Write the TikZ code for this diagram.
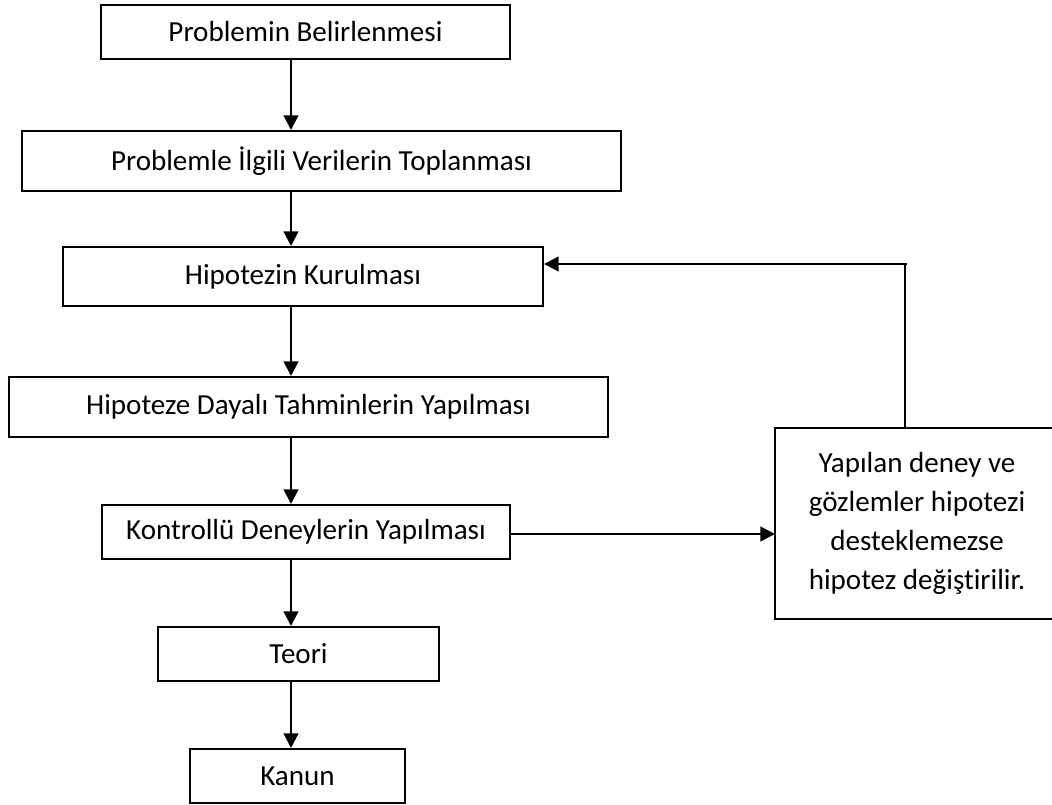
\documentclass[tikz,border=0pt]{standalone}
\usepackage{fontspec}
\setmainfont{Carlito}[Ligatures={NoCommon}]
\usetikzlibrary{arrows.meta}
\begin{document}
\begin{tikzpicture}[x=0.75pt,y=-0.75pt,
  box/.style={draw=black,line width=1.5pt,inner sep=0pt,align=center,
    font={\fontsize{21.8}{29.25}\selectfont}},
  arr/.style={line width=1.6pt,-{Triangle[length=11pt,width=11pt]}},
  thin line/.style={line width=1.2pt}]
\useasboundingbox[fill=white] (0,0) rectangle (1052,805);
\clip (0,0) rectangle (1052,805);
\node[box,minimum width={409*0.75pt},minimum height={54*0.75pt}] (b1) at (305.5,32) {Problemin Belirlenmesi};
\node[box,minimum width={599*0.75pt},minimum height={60*0.75pt}] (b2) at (321.5,161) {Problemle İlgili Verilerin Toplanması};
\node[box,minimum width={480*0.75pt},minimum height={59*0.75pt}] (b3) at (303,276.5) {Hipotezin Kurulması};
\node[box,minimum width={599*0.75pt},minimum height={60*0.75pt}] (b4) at (308.5,407) {Hipoteze Dayalı Tahminlerin Yapılması};
\node[box,minimum width={408*0.75pt},minimum height={54*0.75pt}] (b5) at (306,532) {Kontrollü Deneylerin Yapılması};
\node[box,minimum width={281*0.75pt},minimum height={54*0.75pt}] (b6) at (298.5,654) {Teori};
\node[box,minimum width={215*0.75pt},minimum height={54*0.75pt}] (b7) at (297.5,776) {Kanun};
\node[box,draw=none,minimum width={282*0.75pt},minimum height={189*0.75pt}] (rb) at (917,523.5) {Yapılan deney ve\\gözlemler hipotezi\\desteklemezse\\hipotez değiştirilir.};
\draw[line width=1.5pt] ([xshift=40pt]rb.north east) -- (rb.north west) -- (rb.south west) -- ([xshift=40pt]rb.south east);
\coordinate (ax) at (291,0);
\coordinate (fb) at (905,264);
\coordinate (fbend) at (907,264);
\draw[arr] (b1.south -| ax) -- (b2.north -| ax);
\draw[arr] (b2.south -| ax) -- (b3.north -| ax);
\draw[arr] (b3.south -| ax) -- (b4.north -| ax);
\draw[arr] (b4.south -| ax) -- (b5.north -| ax);
\draw[arr] (b5.south -| ax) -- (b6.north -| ax);
\draw[arr] (b6.south -| ax) -- (b7.north -| ax);
\draw[arr] ([yshift=-1.5pt]b5.east) -- ([yshift=-1.5pt]b5.east -| rb.west);
\draw[thin line] (rb.north -| fb) -- (fb);
\draw[arr] (fbend) -- (b3.east |- fb);
\end{tikzpicture}
\end{document}
